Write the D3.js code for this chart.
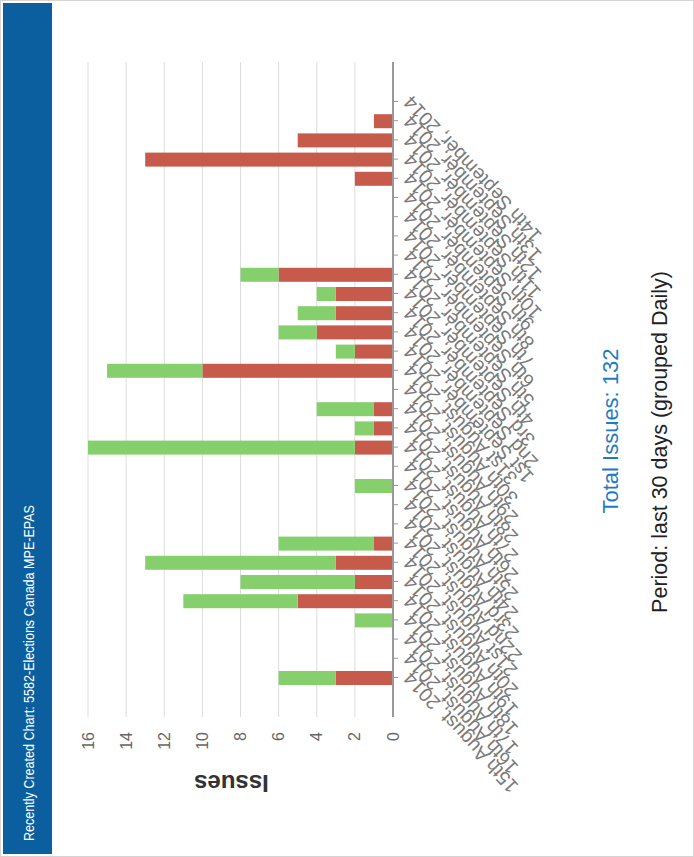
<!DOCTYPE html>
<html><head><meta charset="utf-8">
<script src="https://cdn.jsdelivr.net/npm/d3@7/dist/d3.min.js"></script>
<style>body{margin:0;background:#fff}svg{display:block}</style>
</head><body><svg id="c" width="694" height="857"></svg>
<script>
const categories = [
"15th August, 2014","16th August, 2014","17th August, 2014","18th August, 2014","19th August, 2014",
"20th August, 2014","21st August, 2014","22nd August, 2014","23rd August, 2014","24th August, 2014",
"25th August, 2014","26th August, 2014","27th August, 2014","28th August, 2014","29th August, 2014",
"30th August, 2014","31st August, 2014","1st September, 2014","2nd September, 2014","3rd September, 2014",
"4th September, 2014","5th September, 2014","6th September, 2014","7th September, 2014","8th September, 2014",
"9th September, 2014","10th September, 2014","11th September, 2014","12th September, 2014","13th September, 2014",
"14th September, 2014"];
const redValues   = [3,0,0,0,5,2,3,1,0,0,0,0,2,1,1,0,10,2,4,3,3,6,0,0,0,0,2,13,5,1,0];
const greenValues = [3,0,0,2,6,6,10,5,0,0,2,0,14,1,3,0,5,1,2,2,1,2,0,0,0,0,0,0,0,0,0];
const valueTicks = [0,2,4,6,8,10,12,14,16];
const titleText = "Recently Created Chart: 5582-Elections Canada MPE-EPAS";
const totalText = "Total Issues: 132";
const periodText = "Period: last 30 days (grouped Daily)";
const axisTitle = "Issues";

const W = 694, H = 857;
const svg = d3.select("#c");
const FONT = "'Liberation Sans', Arial, sans-serif";

// outer frame
svg.append("rect").attr("x",0.5).attr("y",0.5).attr("width",W-1).attr("height",H-1)
  .attr("fill","#fff").attr("stroke","#d4d4d4");

// title bar (left)
svg.append("rect").attr("x",3).attr("y",3).attr("width",49).attr("height",H-6).attr("fill","#0b5f9f");
svg.append("text").attr("transform","translate(34,841) rotate(-90)")
  .attr("fill","#fff").attr("font-family",FONT).attr("font-size",15)
  .attr("textLength",336).attr("lengthAdjust","spacingAndGlyphs").text(titleText);

// rotated chart frame: (u,v) -> screen (v, H-u)
const g = svg.append("g").attr("transform",`translate(0,${H}) rotate(-90)`);

const x = d3.scalePoint().domain(categories).range([179,755]);
const y = d3.scaleLinear().domain([0,16]).range([393,88]);
const u0 = 140, u1 = 795;

// grid
g.append("g").selectAll("line").data(valueTicks.filter(t=>t>0)).join("line")
  .attr("x1",u0).attr("x2",u1).attr("y1",d=>y(d)).attr("y2",d=>y(d))
  .attr("stroke","#dcdcdc").attr("stroke-width",1);

// value labels
g.append("g").selectAll("text").data(valueTicks).join("text")
  .attr("x",125).attr("y",d=>y(d)).attr("dy","0.35em").attr("text-anchor","end")
  .attr("font-family",FONT).attr("font-size",16).attr("fill","#666").text(d=>d);

// axis title
g.append("text").attr("transform",`translate(74,${(y(0)+y(16))/2 - 9}) rotate(-90)`)
  .attr("text-anchor","middle").attr("dy","0.35em").attr("font-family",FONT).attr("font-size",24)
  .attr("font-weight","bold").attr("fill","#333").text(axisTitle);

// bars
const bw = 14;
const bars = g.append("g");
bars.selectAll("rect.r").data(categories).join("rect").attr("class","r")
  .attr("x",d=>x(d)-bw/2).attr("width",bw)
  .attr("y",(d,i)=>y(redValues[i])).attr("height",(d,i)=>y(0)-y(redValues[i]))
  .attr("fill","#c65b4b");
bars.selectAll("rect.gr").data(categories).join("rect").attr("class","gr")
  .attr("x",d=>x(d)-bw/2).attr("width",bw)
  .attr("y",(d,i)=>y(redValues[i]+greenValues[i]))
  .attr("height",(d,i)=>y(redValues[i])-y(redValues[i]+greenValues[i]))
  .attr("fill","#85d06c");

// category axis
const ax = g.append("g").attr("transform",`translate(0,${y(0)})`)
  .call(d3.axisBottom(x).tickSize(5).tickFormat(""));
ax.select(".domain").remove();
ax.selectAll(".tick line").attr("stroke","#999");
g.append("line").attr("x1",u0).attr("x2",u1).attr("y1",y(0)).attr("y2",y(0))
  .attr("stroke","#999").attr("stroke-width",2);

g.append("g").selectAll("text").data(categories).join("text")
  .attr("transform",d=>`translate(${x(d)+3},${y(0)+14}) rotate(-43)`)
  .attr("text-anchor","end").attr("dy","0.35em")
  .attr("font-family",FONT).attr("font-size",19.5).attr("fill","#7a7a7a").text(d=>d);

// footer texts
svg.append("text").attr("transform","translate(618,431) rotate(-90)").attr("text-anchor","middle")
  .attr("font-family",FONT).attr("font-size",22).attr("fill","#1f7bc1").text(totalText);
svg.append("text").attr("transform","translate(667,442) rotate(-90)").attr("text-anchor","middle")
  .attr("font-family",FONT).attr("font-size",21.5).attr("fill","#222").text(periodText);
</script></body></html>
